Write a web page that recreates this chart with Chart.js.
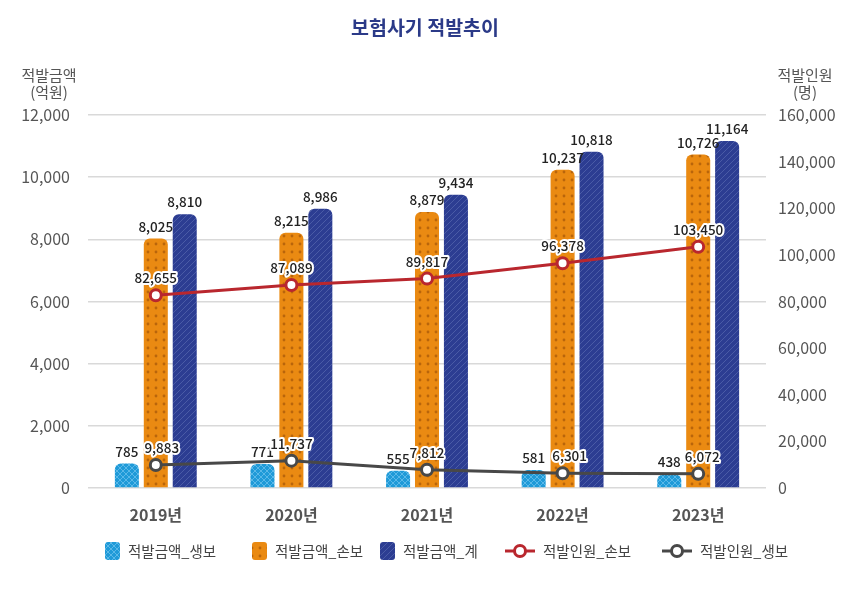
<!DOCTYPE html>
<html>
<head>
<meta charset="utf-8">
<script src="https://cdn.jsdelivr.net/npm/chart.js@4"></script>
<style>
  html, body { margin: 0; padding: 0; background: #fff; }
  #wrap { width: 850px; height: 590px; }
</style>
</head>
<body>
<div id="wrap"><canvas id="chart" width="850" height="590"></canvas></div>
<script>
const FONT = '"Noto Sans CJK KR", "Noto Sans", sans-serif';

const years = ['2019년', '2020년', '2021년', '2022년', '2023년'];
const amountLife = [785, 771, 555, 581, 438];
const amountNonLife = [8025, 8215, 8879, 10237, 10726];
const amountTotal = [8810, 8986, 9434, 10818, 11164];
const peopleNonLife = [82655, 87089, 89817, 96378, 103450];
const peopleLife = [9883, 11737, 7812, 6301, 6072];

const seriesNames = ['적발금액_생보', '적발금액_손보', '적발금액_계', '적발인원_손보', '적발인원_생보'];

// small nudges so the low labels do not collide
const lifeLabelShift = [6, 0, 0, 7, 4];

// pattern tiles for the bars
function makeTile(size, bg, paint) {
  const c = document.createElement('canvas');
  c.width = size; c.height = size;
  const g = c.getContext('2d');
  g.fillStyle = bg;
  g.fillRect(0, 0, size, size);
  paint(g, size);
  return c;
}

const ctx = document.getElementById('chart').getContext('2d');

const blueTile = makeTile(6, '#1f9ad8', (g, s) => {
  g.strokeStyle = '#5ab8e8';
  g.lineWidth = 1;
  g.beginPath();
  g.moveTo(0, 0); g.lineTo(s, s);
  g.moveTo(s, 0); g.lineTo(0, s);
  g.stroke();
});
const orangeTile = makeTile(8, '#ea8a12', (g) => {
  g.fillStyle = '#b9650b';
  g.beginPath();
  g.arc(4, 4, 1.4, 0, Math.PI * 2);
  g.fill();
});
const navyTile = makeTile(6, '#2c3d92', (g, s) => {
  g.strokeStyle = '#4a5ba6';
  g.lineWidth = 1;
  g.beginPath();
  g.moveTo(-1, s + 1); g.lineTo(s + 1, -1);
  g.moveTo(-1, 1); g.lineTo(1, -1);
  g.moveTo(s - 1, s + 1); g.lineTo(s + 1, s - 1);
  g.stroke();
});

const bluePat = ctx.createPattern(blueTile, 'repeat');
const orangePat = ctx.createPattern(orangeTile, 'repeat');
const navyPat = ctx.createPattern(navyTile, 'repeat');

const RED = '#b9272e';
const GREY = '#484848';

const fmt = v => v.toLocaleString('en-US');

const extras = {
  id: 'extras',
  afterDatasetsDraw(chart) {
    const c = chart.ctx;
    c.save();
    c.textAlign = 'center';
    c.textBaseline = 'alphabetic';
    c.font = '500 13.5px ' + FONT;
    // bar labels
    [0, 1, 2].forEach(di => {
      const meta = chart.getDatasetMeta(di);
      meta.data.forEach((el, i) => {
        c.fillStyle = '#222';
        c.fillText(fmt(chart.data.datasets[di].data[i]), el.x, el.y - 7);
      });
    });
    // line labels with white halo
    [3, 4].forEach(di => {
      const meta = chart.getDatasetMeta(di);
      meta.data.forEach((el, i) => {
        const t = fmt(chart.data.datasets[di].data[i]);
        const x = el.x + (di === 4 ? lifeLabelShift[i] : 0);
        c.lineWidth = 4;
        c.strokeStyle = '#fff';
        c.lineJoin = 'round';
        c.strokeText(t, x, el.y - 12);
        c.fillStyle = '#222';
        c.fillText(t, x, el.y - 12);
      });
    });
    c.restore();
  },
  afterDraw(chart) {
    const c = chart.ctx;
    c.save();
    // title
    c.textAlign = 'center';
    c.textBaseline = 'middle';
    c.fillStyle = '#2b3a88';
    c.font = 'bold 19.5px ' + FONT;
    c.fillText('보험사기 적발추이', 425, 28);
    // axis titles
    c.fillStyle = '#555';
    c.font = '15px ' + FONT;
    c.fillText('적발금액', 49, 75);
    c.fillText('(억원)', 49, 92);
    c.fillText('적발인원', 805, 75);
    c.fillText('(명)', 805, 92);

    // legend
    const ly = 551;
    c.font = '14.5px ' + FONT;
    c.textAlign = 'left';
    const pats = [bluePat, orangePat, navyPat];
    const boxX = [105, 252, 380];
    pats.forEach((p, i) => {
      c.fillStyle = p;
      c.beginPath();
      c.roundRect(boxX[i], ly - 9, 15, 18, 3);
      c.fill();
      c.fillStyle = '#444';
      c.fillText(seriesNames[i], boxX[i] + 23, ly);
    });
    const lineX = [505, 662];
    const lineCol = [RED, GREY];
    lineX.forEach((x, i) => {
      c.strokeStyle = lineCol[i];
      c.lineWidth = 3;
      c.beginPath();
      c.moveTo(x, ly); c.lineTo(x + 30, ly);
      c.stroke();
      c.beginPath();
      c.arc(x + 15, ly, 5.5, 0, Math.PI * 2);
      c.fillStyle = '#fff';
      c.fill();
      c.stroke();
      c.fillStyle = '#444';
      c.fillText(seriesNames[3 + i], x + 38, ly);
    });
    c.restore();
  }
};

new Chart(ctx, {
  type: 'bar',
  data: {
    labels: years,
    datasets: [
      { label: seriesNames[0], data: amountLife, backgroundColor: bluePat, yAxisID: 'y', order: 2,
        borderRadius: 6, borderSkipped: 'start', categoryPercentage: 0.64, barPercentage: 0.83 },
      { label: seriesNames[1], data: amountNonLife, backgroundColor: orangePat, yAxisID: 'y', order: 2,
        borderRadius: 6, borderSkipped: 'start', categoryPercentage: 0.64, barPercentage: 0.83 },
      { label: seriesNames[2], data: amountTotal, backgroundColor: navyPat, yAxisID: 'y', order: 2,
        borderRadius: 6, borderSkipped: 'start', categoryPercentage: 0.64, barPercentage: 0.83 },
      { type: 'line', label: seriesNames[3], data: peopleNonLife, yAxisID: 'y1', order: 0,
        borderColor: RED, borderWidth: 3, pointRadius: 5.5, pointBorderWidth: 3,
        pointBackgroundColor: '#fff', pointBorderColor: RED, tension: 0 },
      { type: 'line', label: seriesNames[4], data: peopleLife, yAxisID: 'y1', order: 0,
        borderColor: GREY, borderWidth: 3, pointRadius: 5.5, pointBorderWidth: 3,
        pointBackgroundColor: '#fff', pointBorderColor: GREY, tension: 0 }
    ]
  },
  options: {
    responsive: false,
    animation: false,
    layout: { padding: { top: 115, bottom: 50, left: 0, right: 0 } },
    plugins: {
      legend: { display: false },
      tooltip: { enabled: false }
    },
    scales: {
      x: {
        grid: { display: false },
        border: { display: false },
        ticks: { color: '#555', font: { family: FONT, size: 16, weight: 'bold' }, padding: 9 },
        afterFit: s => { s.height = 52; }
      },
      y: {
        position: 'left',
        min: 0, max: 12000,
        ticks: { stepSize: 2000, color: '#555', font: { family: FONT, size: 16 }, padding: 18,
          callback: v => fmt(v) },
        grid: { color: '#d9d9d9', lineWidth: 1.5, drawTicks: false },
        border: { display: false },
        afterFit: s => { s.width = 88; }
      },
      y1: {
        position: 'right',
        min: 0, max: 160000,
        ticks: { stepSize: 20000, color: '#555', font: { family: FONT, size: 16 }, padding: 4,
          callback: v => fmt(v) },
        grid: { display: false },
        border: { display: false },
        afterFit: s => { s.width = 84; }
      }
    }
  },
  plugins: [extras]
});
</script>
</body>
</html>
